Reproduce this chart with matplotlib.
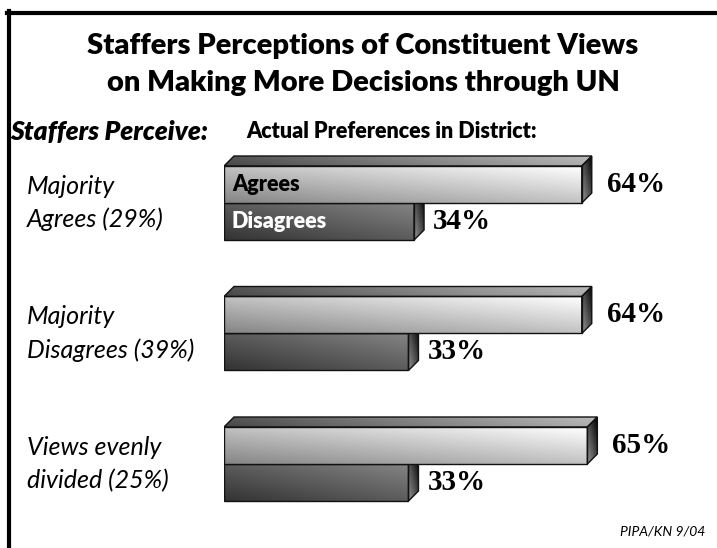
import numpy as np
import matplotlib
matplotlib.use('Agg')
import matplotlib.pyplot as plt
from matplotlib.patches import Polygon
from matplotlib.lines import Line2D
from matplotlib.transforms import blended_transform_factory

# data
perceive = ['Majority\nAgrees (29%)', 'Majority\nDisagrees (39%)', 'Views evenly\ndivided (25%)']
agrees = [64, 64, 65]
disagrees = [34, 33, 33]

W, H = 717, 548
fig = plt.figure(figsize=(W / 100, H / 100), dpi=100)
SANS = ['Lato', 'DejaVu Sans']
SERIF = ['Liberation Serif', 'DejaVu Serif']


def box(x0, y0, x1, y1):
    # pixel box -> figure fraction rect
    return [x0 / W, 1 - y1 / H, (x1 - x0) / W, (y1 - y0) / H]


ax = fig.add_axes(box(224, 150, 717, 515))
ax.set_xlim(0, (717 - 224) / 5.59)
ax.set_ylim((515 - 203) / 130.5, (150 - 203) / 130.5)
ax.axis('off')

fig.canvas.draw()
p0 = ax.transData.transform((0, 0))
p1 = ax.transData.transform((1, 1))
depth = 10
dx = depth / abs(p1[0] - p0[0])
dy = depth / abs(p1[1] - p0[1])
bh = 37 / abs(p1[1] - p0[1])


def shade(poly, c0, cu, cv, z):
    # diagonal gray gradient clipped to polygon
    pts = np.array(poly)
    x0, x1 = pts[:, 0].min(), pts[:, 0].max()
    y0, y1 = pts[:, 1].min(), pts[:, 1].max()
    u, v = np.meshgrid(np.linspace(0, 1, 200), np.linspace(0, 1, 60))
    img = c0 + cu * u + cv * (1 - v)
    img = np.clip(img, 0, 1)
    im = ax.imshow(img, cmap='gray', vmin=0, vmax=1, extent=(x0, x1, y1, y0),
                   aspect='auto', interpolation='bilinear', zorder=z)
    p = Polygon(pts, closed=True, facecolor='none', edgecolor='#111111', lw=1.0, zorder=z + 0.5)
    ax.add_patch(p)
    im.set_clip_path(p)


def bar3d(v, yt, yb, front, z):
    top = [(0, yt), (v, yt), (v + dx, yt - dy), (dx, yt - dy)]
    side = [(v, yt), (v + dx, yt - dy), (v + dx, yb - dy), (v, yb)]
    face = [(0, yt), (v, yt), (v, yb), (0, yb)]
    shade(top, 0.28, 0.4, 0.05, z)
    shade(side, 0.6, -0.3, -0.3, z)
    shade(face, *front, z)


for i in range(len(agrees)):
    bar3d(disagrees[i], i, i + bh, (0.2, 0.16, 0.16), 2)
    bar3d(agrees[i], i - bh, i, (0.52, 0.24, 0.24), 4)
    ax.annotate(f'{agrees[i]}%', (agrees[i], i - bh / 2), xytext=(25 * 0.72, 0),
                textcoords='offset points', va='center', ha='left',
                fontsize=21, fontweight='bold', family=SERIF, annotation_clip=False)
    ax.annotate(f'{disagrees[i]}%', (disagrees[i], i + bh / 2), xytext=(19 * 0.72, 0),
                textcoords='offset points', va='center', ha='left',
                fontsize=21, fontweight='bold', family=SERIF, annotation_clip=False)

ax.text(1.4, -bh / 2, 'Agrees', va='center', ha='left', fontsize=15.5,
        fontweight='heavy', family=SANS, color='black', zorder=8)
ax.text(1.4, bh / 2, 'Disagrees', va='center', ha='left', fontsize=15.5,
        fontweight='heavy', family=SANS, color='white', zorder=8)

tr = blended_transform_factory(fig.transFigure, ax.transData)
for i, lab in enumerate(perceive):
    ax.text(27 / W, i, lab, transform=tr, va='center', ha='left', fontsize=18,
            style='italic', family=SANS, linespacing=1.5)

fig.text(363 / W, 1 - 46 / H, 'Staffers Perceptions of Constituent Views',
         ha='center', va='center', fontsize=21, fontweight='heavy', family=SANS)
fig.text(363 / W, 1 - 83 / H, 'on Making More Decisions through UN',
         ha='center', va='center', fontsize=21, fontweight='heavy', family=SANS)
fig.text(10 / W, 1 - 132 / H, 'Staffers Perceive:', ha='left', va='center',
         fontsize=19, fontweight='heavy', style='italic', family=SANS)
fig.text(246 / W, 1 - 131 / H, 'Actual Preferences in District:', ha='left', va='center',
         fontsize=15.5, fontweight='heavy', family=SANS)
fig.text(705 / W, 1 - 532 / H, 'PIPA/KN 9/04', ha='right', va='center',
         fontsize=10, style='italic', family=SANS)

# frame (top and left edges only, rest cropped)
fig.add_artist(Line2D([7 / W, 1], [1 - 13 / H, 1 - 13 / H], color='black', lw=3, transform=fig.transFigure))
fig.add_artist(Line2D([9 / W, 9 / W], [1 - 11 / H, 0], color='black', lw=3, transform=fig.transFigure))

fig.savefig('out.png', dpi=100)
